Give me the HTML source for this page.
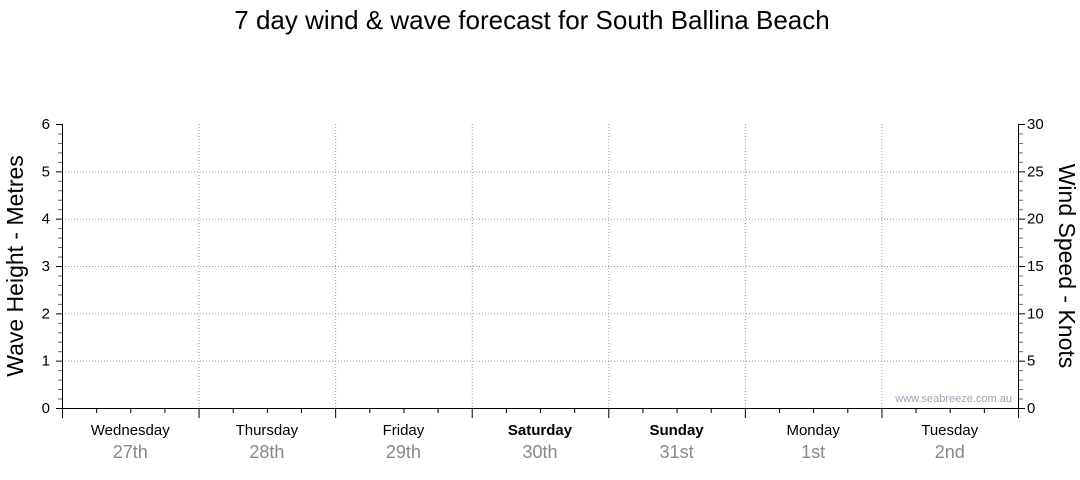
<!DOCTYPE html>
<html><head><meta charset="utf-8"><style>
body{margin:0;background:#fff;font-family:"Liberation Sans",sans-serif}
</style></head><body>
<svg width="1080" height="475" xmlns="http://www.w3.org/2000/svg" font-family="Liberation Sans, sans-serif">
<text x="532" y="29" font-size="26" text-anchor="middle">7 day wind &amp; wave forecast for South Ballina Beach</text>
<g id="grid"></g>
<g id="axes"></g>
<text transform="translate(23,266) rotate(-90)" font-size="23" text-anchor="middle">Wave Height - Metres</text>
<text transform="translate(1059,266) rotate(90)" font-size="23" text-anchor="middle">Wind Speed - Knots</text>
<text x="1012" y="402" font-size="11" fill="#9aa4b4" text-anchor="end">www.seabreeze.com.au</text>
</svg>
<script>
const days=["Wednesday","Thursday","Friday","Saturday","Sunday","Monday","Tuesday"];
const dates=["27th","28th","29th","30th","31st","1st","2nd"];
const boldDays=[false,false,false,true,true,false,false];
const waveTicks=[0,1,2,3,4,5,6];
const windTicks=[0,5,10,15,20,25,30];
const X0=62,X1=1018,Y0=408,Y1=124;
const x=d=>X0+(X1-X0)*d/7;
const yW=v=>Y0-(Y0-Y1)*v/6;
const yK=v=>Y0-(Y0-Y1)*v/30;
const NS="http://www.w3.org/2000/svg";
const g=document.getElementById("grid"),a=document.getElementById("axes");
function mk(p,t,at,txt){const e=document.createElementNS(NS,t);for(const k in at)e.setAttribute(k,at[k]);if(txt!==undefined)e.textContent=txt;p.appendChild(e);return e;}
waveTicks.forEach(v=>{if(v>0&&v<6){const l=mk(g,"line",{x1:X0,x2:X1,y1:yW(v)+.5,y2:yW(v)+.5,stroke:"#999","stroke-dasharray":"1,2"});

}
const t=mk(a,"text",{x:50,y:yW(v)+5,"font-size":15,"text-anchor":"end"},v);

});
windTicks.forEach(v=>{const t=mk(a,"text",{x:1027,y:yK(v)+5,"font-size":15},v);

});
for(let i=0;i<=30;i++){const yy=Y0-(Y0-Y1)*i/30+.5;const maj=i%5==0;
mk(a,"line",{x1:maj?56:58,x2:X0,y1:yy,y2:yy,stroke:maj?"#000":"#666"});
mk(a,"line",{x1:X1,x2:maj?1025:1023,y1:yy,y2:yy,stroke:maj?"#000":"#666"});}
for(let d=1;d<7;d++){const l=mk(g,"line",{x1:x(d)+.5,x2:x(d)+.5,y1:Y1,y2:Y0,stroke:"#999","stroke-dasharray":"1,2"});

}
for(let q=0;q<=28;q++){const xx=X0+(X1-X0)*q/28+.5;mk(a,"line",{x1:xx,x2:xx,y1:Y0,y2:q%4==0?418:413,stroke:"#000"});}
mk(a,"line",{x1:X0+.5,x2:X0+.5,y1:Y1,y2:Y0+1,stroke:"#000"});
mk(a,"line",{x1:X1+.5,x2:X1+.5,y1:Y1,y2:Y0+1,stroke:"#000"});
mk(a,"line",{x1:X0,x2:X1+1,y1:Y0+.5,y2:Y0+.5,stroke:"#000"});
days.forEach((d,i)=>{const cx=x(i+.5);
const t=mk(a,"text",{x:cx,y:435,"font-size":15,"text-anchor":"middle","font-weight":boldDays[i]?"bold":"normal"},d);


const t2=mk(a,"text",{x:cx,y:458,"font-size":18,"text-anchor":"middle",fill:"#888"},dates[i]);

});
</script>
</body></html>
